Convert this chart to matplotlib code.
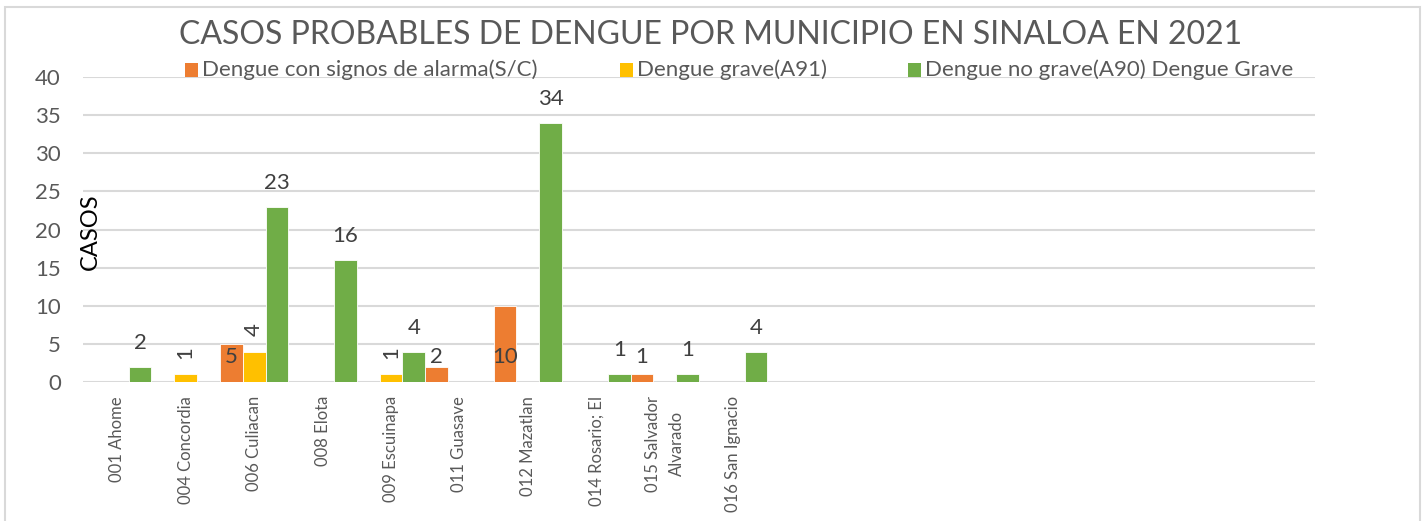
import matplotlib
matplotlib.use("Agg")
import matplotlib.pyplot as plt
from matplotlib.patches import Rectangle
import numpy as np

plt.rcParams['font.family'] = ['Lato', 'DejaVu Sans']

title = "CASOS PROBABLES DE DENGUE POR MUNICIPIO EN SINALOA EN 2021"
categories = ["001 Ahome", "004 Concordia", "006 Culiacan", "008 Elota",
              "009 Escuinapa", "011 Guasave", "012 Mazatlan", "014 Rosario; El",
              "015 Salvador\nAlvarado", "016 San Ignacio",
              "", "", "", "", "", "", "", ""]
series_names = ["Dengue con signos de alarma(S/C)", "Dengue grave(A91)",
                "Dengue no grave(A90) Dengue Grave"]
alarma = [0, 0, 5, 0, 0, 2, 10, 0, 1, 0]
grave = [0, 1, 4, 0, 1, 0, 0, 0, 0, 0]
no_grave = [2, 0, 23, 16, 4, 0, 34, 1, 1, 4]
y_ticks = [0, 5, 10, 15, 20, 25, 30, 35, 40]

colors = ["#ED7D31", "#FFC000", "#70AD47"]
text_gray = "#595959"
label_gray = "#404040"
grid_gray = "#D9D9D9"

W, H = 1425, 521
fig = plt.figure(figsize=(W / 100, H / 100), dpi=100)
fig.patch.set_facecolor("white")

# chart border
fig.add_artist(Rectangle((5 / W, -0.05), (1420 - 5) / W, 1.05 - 7 / H,
                         transform=fig.transFigure, fill=False,
                         edgecolor=grid_gray, linewidth=1.5))

ax = fig.add_axes([83 / W, 1 - 382 / H, (1315 - 83) / W, (382 - 77) / H])
n = len(categories)
x = np.arange(n)
bw = 1 / 3
data = [alarma, grave, no_grave]
offsets = [-bw, 0, bw]

for vals, off, col in zip(data, offsets, colors):
    xs = x[:len(vals)] + off
    ax.bar(xs, vals, width=bw, color=col, edgecolor="white", linewidth=0.6, zorder=3)

# data labels
for i, v in enumerate(alarma):
    if v:
        ax.text(x[i] - bw, 3.3, str(v), ha="center", va="center",
                fontsize=16, color=label_gray, zorder=5)
for i, v in enumerate(grave):
    if v:
        ax.annotate(str(v), (x[i], v), xytext=(0, 22), textcoords="offset pixels",
                    ha="center", va="center", rotation=90, fontsize=16,
                    color=label_gray, zorder=5)
for i, v in enumerate(no_grave):
    if v:
        ax.annotate(str(v), (x[i] + bw, v), xytext=(0, 24), textcoords="offset pixels",
                    ha="center", va="center", fontsize=16,
                    color=label_gray, zorder=5)

ax.set_xlim(-0.5, n - 0.5)
ax.set_ylim(0, 40)
ax.set_yticks(y_ticks)
ax.set_xticks(x)
ax.set_xticklabels(categories, rotation=90, ha="center", va="top",
                   multialignment="center", linespacing=1.6,
                   fontsize=12, color=text_gray)
ax.tick_params(axis="x", length=0, pad=10)
ax.tick_params(axis="y", length=0, pad=16, labelsize=16, labelcolor=text_gray)
ax.grid(axis="y", color=grid_gray, linewidth=1.5, zorder=0)
for s in ax.spines.values():
    s.set_visible(False)
ax.set_facecolor("none")

# title
fig.text((183 + 1238) / 2 / W, 1 - 35 / H, title, ha="center", va="center",
         fontsize=23, color=text_gray)

# y label
fig.text(90 / W, 1 - 232 / H, "CASOS", rotation=90, ha="center", va="center",
         fontsize=17, color="black")

# legend
leg_x = [185, 620, 908]
leg_y = 70
for lx, col, name in zip(leg_x, colors, series_names):
    fig.add_artist(Rectangle((lx / W, 1 - (leg_y + 6.5) / H), 13 / W, 13 / H,
                             transform=fig.transFigure, facecolor=col,
                             edgecolor="none"))
    fig.text((lx + 17) / W, 1 - leg_y / H, name, ha="left", va="center",
             fontsize=16, color=text_gray)

fig.savefig("out.png", dpi=100)
